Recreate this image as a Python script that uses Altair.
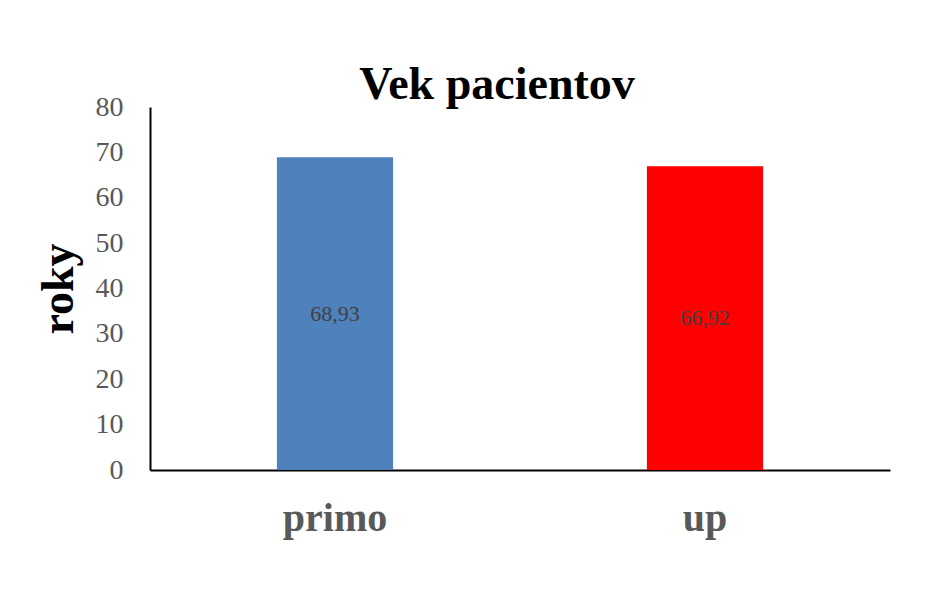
import altair as alt
import pandas as pd

categories = ["primo", "up"]
values = [68.93, 66.92]
value_labels = ["68,93", "66,92"]
colors = ["#4F81BD", "#FF0000"]

df = pd.DataFrame({"cat": categories, "val": values, "lab": value_labels, "col": colors})
df["half"] = df["val"] / 2

FONT = "Liberation Serif"

base = alt.Chart(df)

x = alt.X("cat:N", sort=categories, title=None,
          scale=alt.Scale(paddingInner=0.686, paddingOuter=0.343),
          axis=alt.Axis(labelAngle=0, labelFont=FONT, labelFontSize=40, labelFontWeight="bold",
                        labelColor="#595959", labelPadding=28, ticks=False,
                        domainColor="#000000", domainWidth=2, grid=False))

bars = base.mark_bar().encode(
    x=x,
    y=alt.Y("val:Q", title="roky", scale=alt.Scale(domain=[0, 80]),
            axis=alt.Axis(values=[0, 10, 20, 30, 40, 50, 60, 70, 80], labelFont=FONT,
                          labelFontSize=28, labelColor="#595959", labelPadding=27,
                          ticks=False, grid=False, domainColor="#000000", domainWidth=2,
                          titleFont=FONT, titleFontSize=46, titleFontWeight="bold",
                          titleColor="#000000", titlePadding=13)),
    color=alt.Color("col:N", scale=None),
)

texts = base.mark_text(font=FONT, fontSize=22, color="#404040", baseline="middle").encode(
    x=alt.X("cat:N", sort=categories),
    y=alt.Y("half:Q"),
    text="lab:N",
)

chart = (bars + texts).properties(
    width=740, height=363,
    autosize=alt.AutoSizeParams(type="none"),
    padding={"left": 142, "top": 99, "right": 46, "bottom": 116},
    title=alt.TitleParams("Vek pacientov", font=FONT, fontSize=46, fontWeight="bold",
                          color="#000000", anchor="middle", dx=-23, offset=-16),
).configure_view(stroke=None)

chart.save("out.html", embed_options={"renderer": "svg", "actions": False})
